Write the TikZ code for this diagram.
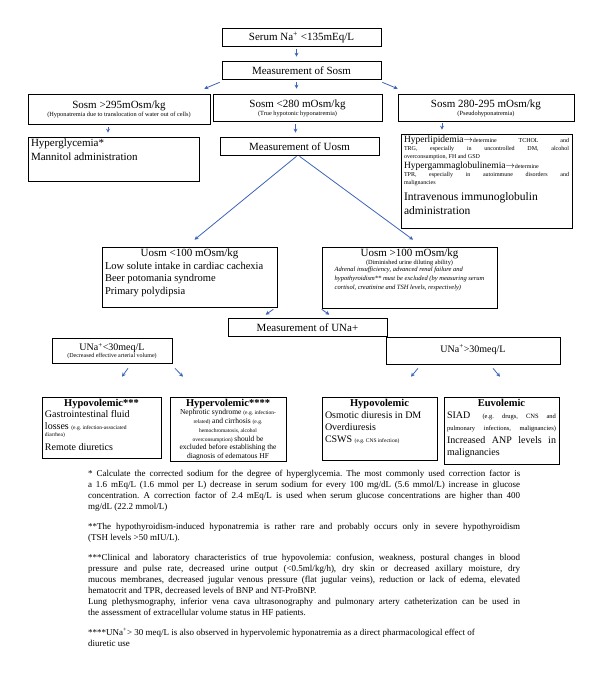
\documentclass[tikz,border=0pt]{standalone}
\usepackage{fontspec}
\setmainfont{Liberation Serif}
\usetikzlibrary{arrows.meta,shadows,calc}
\frenchspacing
\definecolor{arrowblue}{RGB}{60,100,184}
\newcommand\szB{\fontsize{11}{13}\selectfont}
\newcommand\szM{\fontsize{9.5}{11}\selectfont}
\newcommand\szS{\fontsize{6.3}{8}\selectfont}
\newcommand\szT{\fontsize{5.5}{6.5}\selectfont}
\newcommand\jline[1]{\hbox to \linewidth{#1}}
\tikzset{
  box/.style={draw=black, line width=0.6pt, fill=white, inner sep=0pt,
    drop shadow={shadow xshift=0.9pt, shadow yshift=-0.9pt, fill=black!45, opacity=1}},
  arr/.style={draw=arrowblue, line width=0.8pt, -{Stealth[length=4pt,width=4pt]}},
}
\newcommand\mybox[7]{%
  \node[box, minimum width={(#4-#2)*1pt}, minimum height={(#5-#3)*1pt}] (#1) at ({(#2+#4)/2},{(#3+#5)/2})
  {\parbox[c][\dimexpr #5pt-#3pt-2pt\relax][#6]{\dimexpr #4pt-#2pt-6pt\relax}{\vspace*{1pt}#7}};}
\begin{document}
\begin{tikzpicture}[x=1pt,y=-1pt]
\fill[white] (0,0) rectangle (600,681);
\useasboundingbox (0,0) rectangle (600,681);

\mybox{serum}{222}{28}{381}{46}{c}{\centering\szB Serum Na\textsuperscript{+} <135mEq/L\par}
\mybox{msosm}{222}{61}{381}{79}{c}{\centering\szB Measurement of Sosm\par}

\mybox{sosm1}{28}{94}{210}{124}{c}{\centering{\szB Sosm >295mOsm/kg\par}{\szS (Hyponatremia due to translocation of water out of cells)\par}}
\mybox{sosm2}{213}{94}{382}{121}{c}{\centering{\szB Sosm <280 mOsm/kg\par}{\szS (True hypotonic hyponatremia)\par}}
\mybox{sosm3}{398}{94}{574}{121}{c}{\centering{\szB Sosm 280-295 mOsm/kg\par}{\szS (Pseudohyponatremia)\par}}

\mybox{hypergly}{28}{137}{199}{181}{t}{\fontsize{11}{14}\selectfont Hyperglycemia*\par Mannitol administration\par}
\mybox{muosm}{220}{137}{379}{155}{c}{\centering\szB Measurement of Uosm\par}
\mybox{hyperlip}{401}{134}{572}{228}{t}{\fontsize{6}{8}\selectfont
\jline{{\szM Hyperlipidemia$\rightarrow$}determine TCHOL and}
\jline{TRG, especially in uncontrolled DM, alcohol}
\hbox{overconsumption, FH and GSD}
\vspace{2pt}
\jline{{\szM Hypergammaglobulinemia$\rightarrow$}determine}
\jline{TPR, especially in autoimmune disorders and}
\hbox{malignancies}
\vspace{2pt}
{\fontsize{11.5}{14}\selectfont Intravenous immunoglobulin\par administration\par}}

\mybox{uosm1}{102}{247}{277}{307}{t}{{\centering\szB Uosm <100 mOsm/kg\par}
{\fontsize{10.5}{12.5}\selectfont Low solute intake in cardiac cachexia\par Beer potomania syndrome\par Primary polydipsia\par}}
\mybox{uosm2}{322}{247}{497}{308}{t}{{\centering\szB Uosm >100 mOsm/kg\par}
{\centering\szS (Diminished urine diluting ability)\par}
{\centering\parbox{150pt}{\fontsize{6.5}{9}\selectfont\itshape
\hbox{Adrenal insufficiency, advanced renal failure and}
\hbox{hypothyroidism** must be excluded (by measuring serum}
\hbox{cortisol, creatinine and TSH levels, respectively)}}\par}}

\mybox{muna}{228}{318}{387}{336}{c}{\centering\szB Measurement of UNa+\par}
\mybox{una1}{52}{338}{172}{363}{c}{\centering{\fontsize{10}{12}\selectfont UNa\textsuperscript{+}<30meq/L\par}{\fontsize{6}{7}\selectfont (Decreased effective arterial volume)\par}}
\mybox{una2}{386}{337}{560}{364}{c}{\centering\fontsize{10}{12}\selectfont UNa\textsuperscript{+}>30meq/L\par\vspace{3pt}}

\mybox{hypo1}{42}{397}{161}{458}{t}{{\centering\fontsize{10.5}{12}\selectfont\bfseries Hypovolemic***\par}
\fontsize{10}{11.5}\selectfont
\hbox{Gastrointestinal fluid}
\hbox{losses {\szT (e.g. infection-associated}}
\vspace{-4.5pt}
\hbox{\szT diarrhea)}
\vspace{3pt}
\hbox{Remote diuretics}}
\mybox{hyper}{170}{397}{286}{461}{t}{\centering{\fontsize{10.5}{12}\selectfont\bfseries Hypervolemic****\par}
\fontsize{7.5}{8.7}\selectfont
Nephrotic syndrome {\szT (e.g. infection-}\\
{\szT related)} and cirrhosis {\szT (e.g.}\\
{\szT hemochromatosis, alcohol}\\
{\szT overconsumption)} should be\\
excluded before establishing the\\
diagnosis of edematous HF\par}
\mybox{hypo2}{322}{397}{437}{460}{t}{{\centering\fontsize{10.5}{12}\selectfont\bfseries Hypovolemic\par}
\fontsize{10}{12}\selectfont Osmotic diuresis in DM\par Overdiuresis\par CSWS {\szT (e.g. CNS infection)}\par}
\mybox{euvol}{444}{397}{559}{464}{t}{{\centering\fontsize{10.5}{12}\selectfont\bfseries Euvolemic\par}
\fontsize{10}{12}\selectfont
\jline{SIAD {\fontsize{6.5}{7}\selectfont (e.g. drugs, CNS and}}
\jline{\fontsize{6.5}{7}\selectfont pulmonary infections, malignancies)}
\vspace{1pt}
\jline{Increased ANP levels in}
\hbox{malignancies}}

\node[anchor=north west, inner sep=0pt] (notes) at (88,470) {\parbox{432pt}{\fontsize{9}{11}\selectfont
\jline{* Calculate the corrected sodium for the degree of hyperglycemia. The most commonly used correction factor is}
\jline{a 1.6 mEq/L (1.6 mmol per L) decrease in serum sodium for every 100 mg/dL (5.6 mmol/L) increase in glucose}
\jline{concentration. A correction factor of 2.4 mEq/L is used when serum glucose concentrations are higher than 400}
\hbox{mg/dL (22.2 mmol/L)}
\vspace{9pt}
\jline{**The hypothyroidism-induced hyponatremia is rather rare and probably occurs only in severe hypothyroidism}
\hbox{(TSH levels >50 mIU/L).}
\vspace{9pt}
\jline{***Clinical and laboratory characteristics of true hypovolemia: confusion, weakness, postural changes in blood}
\jline{pressure and pulse rate, decreased urine output (<0.5ml/kg/h), dry skin or decreased axillary moisture, dry}
\jline{mucous membranes, decreased jugular venous pressure (flat jugular veins), reduction or lack of edema, elevated}
\hbox{hematocrit and TPR, decreased levels of BNP and NT-ProBNP.}
\jline{Lung plethysmography, inferior vena cava ultrasonography and pulmonary artery catheterization can be used in}
\hbox{the assessment of extracellular volume status in HF patients.}
\vspace{9pt}
\hbox{****UNa\textsuperscript{+}> 30 meq/L is also observed in hypervolemic hyponatremia as a direct pharmacological effect of}
\hbox{diuretic use}}};

% connectors
\draw[arr] ($(serum.south)+(-5,3)$) -- ($(msosm.north)+(-5,-4)$);
\draw[arr] ($(msosm.south west)+(-2,3)$) -- ($(sosm1.north east)+(-6,-5)$);
\draw[arr] ($(msosm.south)+(-5,3)$) -- ($(sosm2.north)+(-1,-5)$);
\draw[arr] ($(msosm.south east)+(1,3)$) -- ($(sosm3.north west)+(0,-5)$);
\draw[arr] ($(sosm1.south)+(-11,3)$) -- ($(hypergly.north)+(-5.5,-4)$);
\draw[arr] ($(sosm2.south)+(-2,3)$) -- ($(muosm.north)+(-4,-4)$);
\draw[arr] ($(sosm3.south)+(-44,2)$) -- ($(hyperlip.north)+(-44.5,-4)$);
\draw[arr] ($(muosm.south)+(-3,1)$) -- ($(uosm1.north)+(5,-7)$);
\draw[arr] ($(muosm.south)+(0,1)$) -- ($(uosm2.north)+(3.5,-7)$);
\draw[arr] ($(uosm1.south east)+(-4,2)$) -- ($(muna.north west)+(38,-3)$);
\draw[arr] ($(uosm2.south west)+(0,1)$) -- ($(muna.north east)+(-58,-3)$);
\draw[arr] ($(una1.south)+(16,5)$) -- ($(hypo1.north)+(20.5,-20)$);
\draw[arr] ($(una1.south)+(63,5)$) -- ($(hyper.north)+(-45,-20)$);
\draw[arr] ($(una2.south)+(-55,4)$) -- ($(hypo2.north)+(31.5,-20)$);
\draw[arr] ($(una2.south)+(20,4)$) -- ($(euvol.north)+(-1.5,-20)$);
\end{tikzpicture}
\end{document}
